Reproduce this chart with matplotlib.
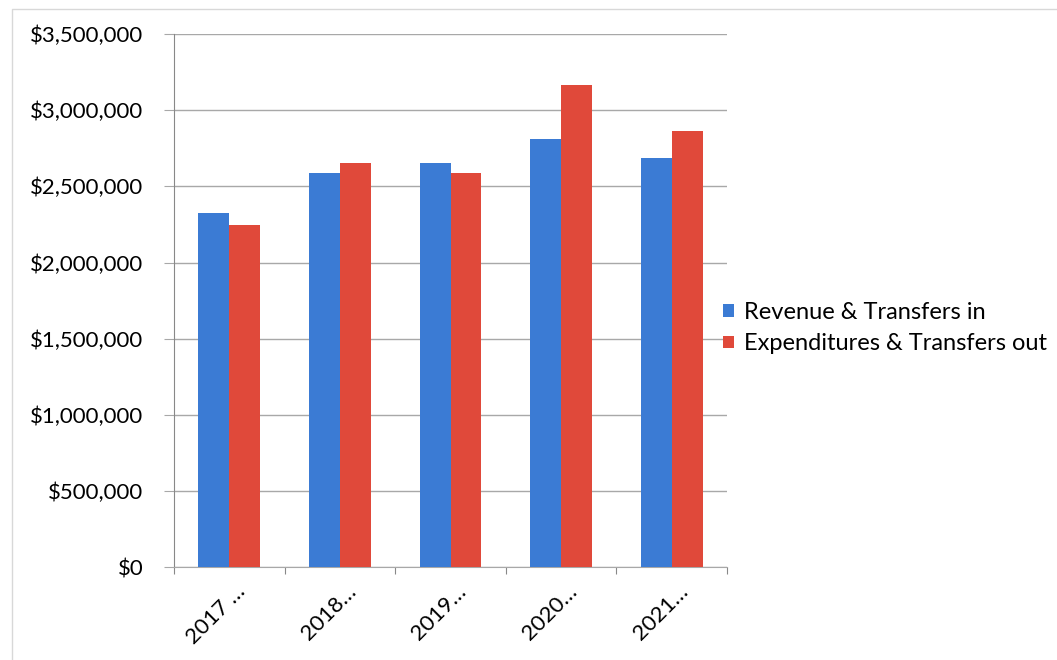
import matplotlib.pyplot as plt
import matplotlib.transforms as mtransforms
import numpy as np
from matplotlib.lines import Line2D
from matplotlib.ticker import FuncFormatter, MultipleLocator

plt.rcParams["font.family"] = ["Lato", "DejaVu Sans"]

years = ["2017 …", "2018…", "2019…", "2020…", "2021…"]
revenue = [2323000, 2585000, 2651000, 2810000, 2684000]
expenditures = [2246000, 2651000, 2585000, 3165000, 2863000]

BLUE = "#3b7bd4"
RED = "#e0493a"
GRID = "#a8a8a8"

fig = plt.figure(figsize=(10.57, 6.6), dpi=100)
fig.patch.set_facecolor("white")
# faint outer chart frame (left and top edges visible in the scan)
fig.add_artist(Line2D([12 / 1057, 12 / 1057, 1.0], [0.0, 1 - 9 / 660, 1 - 9 / 660],
                      transform=fig.transFigure, color="#d8d8d8", linewidth=1))

ax = fig.add_axes([174 / 1057, 1 - 567.3 / 660, 553 / 1057, 533.3 / 660])

x = np.arange(len(years))
w = 0.28
ax.bar(x - w / 2, revenue, w, color=BLUE, label="Revenue & Transfers in", zorder=3)
ax.bar(x + w / 2, expenditures, w, color=RED, label="Expenditures & Transfers out", zorder=3)

ax.set_xlim(-0.5, len(years) - 0.5)
ax.set_ylim(0, 3500000)
ax.yaxis.set_major_locator(MultipleLocator(500000))
ax.yaxis.set_major_formatter(FuncFormatter(lambda v, p: f"${v:,.0f}"))
ax.grid(axis="y", color=GRID, linewidth=1, zorder=0)

for s in ["top", "right"]:
    ax.spines[s].set_visible(False)
ax.spines["left"].set_color("#888888")
ax.spines["bottom"].set_color(GRID)

ax.tick_params(axis="y", length=7, color=GRID, labelsize=16, pad=15)
ax.set_xticks(np.arange(-0.5, len(years), 1.0), minor=False)
ax.set_xticklabels([])
ax.tick_params(axis="x", which="major", length=5, color="#888888")
ax.set_xticks(x, minor=True)
ax.set_xticklabels(years, minor=True, rotation=45, ha="right", va="center",
                   rotation_mode="anchor", fontsize=16)
ax.tick_params(axis="x", which="minor", length=0, pad=15)
offset = mtransforms.ScaledTranslation(13 / 100, 0, fig.dpi_scale_trans)
for lbl in ax.get_xticklabels(minor=True):
    lbl.set_transform(lbl.get_transform() + offset)

leg = fig.legend(loc="center left", bbox_to_anchor=(702 / 1057, 1 - 328 / 660),
                 frameon=False, fontsize=17, handlelength=0.45, handleheight=0.45,
                 handletextpad=0.45, labelspacing=0.45)

fig.savefig("out.png", dpi=100, facecolor="white")
